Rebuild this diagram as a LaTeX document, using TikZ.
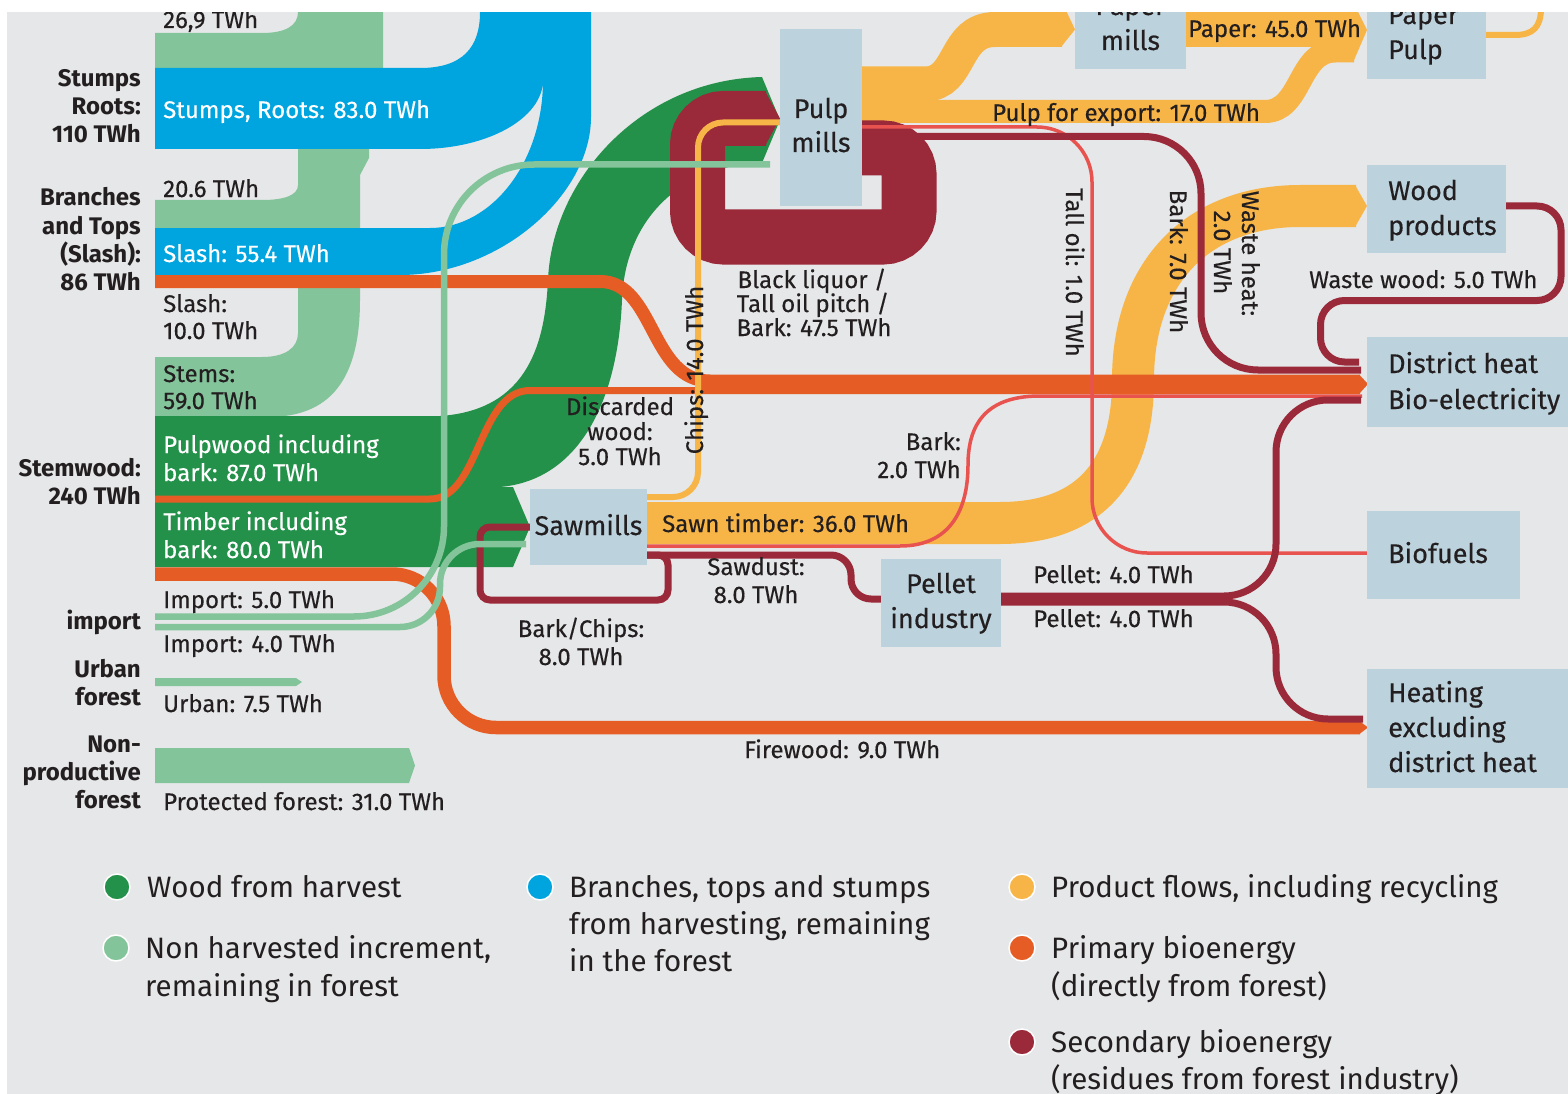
\documentclass[tikz,border=0pt]{standalone}
\usepackage{fontspec}
\setmainfont{Fira Sans}[UprightFeatures={FakeBold=0.35}]
\newfontfamily\legfont{Fira Sans}
\definecolor{bgc}{HTML}{E6E7E8}
\definecolor{dgreen}{HTML}{24914A}
\definecolor{lgreen}{HTML}{84C49B}
\definecolor{skyb}{HTML}{00A5E0}
\definecolor{ylw}{HTML}{F7B548}
\definecolor{org}{HTML}{E55D25}
\definecolor{dred}{HTML}{9A2939}
\definecolor{lred}{HTML}{E8534F}
\definecolor{boxc}{HTML}{BCD2DD}
\definecolor{txt}{HTML}{231F20}
\begin{document}
\begin{tikzpicture}[x=1pt,y=-1pt,
  lbl/.style={font=\fontsize{24}{28}\selectfont, text=txt, inner sep=0pt},
  wl/.style={lbl, text=white, anchor=base west},
  dl/.style={lbl, anchor=base west},
  cl/.style={lbl, anchor=base},
  bl/.style={font=\fontsize{24}{28}\selectfont\bfseries, text=txt, inner sep=0pt, anchor=base east},
  bxl/.style={font=\fontsize{27}{32}\selectfont, text=txt, inner sep=0pt, anchor=base west},
  bxc/.style={bxl, anchor=base},
  leg/.style={font=\legfont\fontsize{29.5}{35}\selectfont, text=txt, inner sep=0pt, anchor=base west},
  procbox/.style={fill=boxc, draw=none, inner sep=0pt, anchor=north west},
  legdot/.style={circle, draw=white, line width=1.5pt, minimum size=26pt, inner sep=0pt},
]
\useasboundingbox (0,0) rectangle (1568,1094);
\fill[bgc] (0,0) rectangle (1568,1094);

% ---------- light green (non harvested) ----------
\fill[lgreen] (155,33) -- (262,33) .. controls (285,33) and (298,26) .. (298,12) -- (298,0) -- (383,0)
  -- (383,149) -- (369,149) -- (369,158) -- (360,175) -- (360,300)
  .. controls (360,380) and (330,417) .. (268,417) -- (155,417) -- (155,357) -- (262,357)
  .. controls (285,357) and (298,348) .. (298,333) -- (298,228) -- (155,228) -- (155,200) -- (262,200)
  .. controls (285,200) and (298,195) .. (298,185) -- (298,68) -- (155,68) -- cycle;
\fill[lgreen] (155,678) -- (296,678) -- (302,682) -- (296,686) -- (155,686) -- cycle;
\fill[lgreen] (155,748) -- (409,748) -- (415,765.5) -- (409,783) -- (155,783) -- cycle;

% ---------- blue ----------
\fill[skyb] (155,68) -- (420,68) .. controls (462,68) and (480,48) .. (480,12) -- (480,0) -- (591,0)
  -- (591,117) .. controls (591,195) and (500,275) .. (400,275) -- (155,275) -- (155,228) -- (430,228)
  .. controls (492,228) and (543,162) .. (543,80) .. controls (543,118) and (488,149) .. (420,149)
  -- (155,149) -- cycle;

% ---------- dark green ----------
\fill[dgreen] (155,416) -- (440,416) .. controls (530,410) and (545,340) .. (548,280)
  .. controls (552,180) and (640,80) .. (762,77) -- (780,120) -- (762,163)
  .. controls (680,165) and (625,220) .. (622,300) .. controls (618,400) and (580,480) .. (500,487)
  -- (513,487) -- (530,527) -- (513,567) -- (155,567) -- cycle;

% ---------- yellow product flows ----------
\draw[ylw, line width=35pt] (862,84) -- (925,84) .. controls (962,84) and (953,29.5) .. (995,29.5) -- (1062,29.5);
\fill[ylw] (1061,0) -- (1075,29.5) -- (1061,47) -- cycle;
\draw[ylw, line width=23pt] (862,111.5) -- (1265,111.5) .. controls (1302,111.5) and (1298,51) .. (1335,51) -- (1354,51);
\fill[ylw] (1186,0) rectangle (1354,47);
\fill[ylw] (1353,0) -- (1358,12) -- (1367,30) -- (1353,62.5) -- cycle;
\draw[ylw, line width=6pt] (1486,35) -- (1515,35) .. controls (1533,35) and (1541,27) .. (1541,8) -- (1541,0);
\draw[ylw, line width=42pt] (647,523) -- (1000,523) .. controls (1100,523) and (1133,460) .. (1133,380)
  .. controls (1133,270) and (1200,206) .. (1300,206) -- (1356,206);
\fill[ylw] (1355,185) -- (1367,206) -- (1355,227) -- cycle;

% ---------- dark red loop at pulp mills ----------
\draw[dred, line width=55pt, rounded corners=26pt] (862,148) -- (909,148) -- (909,237) -- (697.5,237) -- (697.5,118.5) -- (766,118.5);
\fill[dred] (765,91) -- (780,118.5) -- (765,146) -- cycle;

% ---------- orange primary bioenergy ----------
\draw[org, line width=13pt] (155,281.5) -- (600,281.5) .. controls (655,281.5) and (650,381) .. (710,381) -- (1360,381);
\draw[org, line width=7pt] (155,499) -- (430,499) .. controls (480,499) and (478,390.5) .. (530,390.5) -- (1360,390.5);
\fill[org] (1359,374.5) -- (1368,384) -- (1359,394) -- cycle;
\draw[org, line width=13.5pt, rounded corners=52pt] (155,574) -- (444,574) -- (444,727.5) -- (1360,727.5);
\fill[org] (1359,720.75) -- (1368,727.5) -- (1359,734.25) -- cycle;

% ---------- chips ----------
\draw[ylw, line width=6pt, rounded corners=25pt] (647,497) -- (698,497) -- (698,122.5) -- (780,122.5);

% ---------- light red ----------
\draw[lred, line width=3.5pt, rounded corners=55pt] (862,127) -- (1092,127) -- (1092,553) -- (1367,553);
\draw[lred, line width=3.5pt] (647,546) -- (900,546) .. controls (950,546) and (968,510) .. (968,465)
  .. controls (968,420) and (990,396) .. (1040,396) -- (1362,396);

% ---------- dark red lines ----------
\draw[dred, line width=7pt, rounded corners=57pt] (862,136.5) -- (1201,136.5) -- (1201,370) -- (1361,370);
\draw[dred, line width=7pt, rounded corners=24pt] (1506,206) -- (1561,206) -- (1561,300.5) -- (1320.5,300.5) -- (1320.5,362) -- (1359,362);
\draw[dred, line width=7pt, rounded corners=52pt] (1001,596) -- (1276,596) -- (1276,400) -- (1361,400);
\draw[dred, line width=7pt, rounded corners=52pt] (1001,602) -- (1276,602) -- (1276,719) -- (1363,719);
\draw[dred, line width=7pt, rounded corners=20pt] (647,555) -- (851,555) -- (851,599) -- (882,599);
\draw[dred, line width=7pt, rounded corners=10pt] (647,555) -- (668,555) -- (668,600) -- (480,600) -- (480,527) -- (531,527);

% ---------- light green imports ----------
\draw[lgreen, line width=6.5pt, rounded corners=90pt] (155,616.5) -- (444,616.5) -- (444,164.5) -- (770,164.5);
\draw[lgreen, line width=6.5pt, rounded corners=40pt] (155,627) -- (440,627) -- (440,544) -- (526,544);

% ---------- boxes ----------
\node[procbox, minimum width=82pt, minimum height=177pt] (pulp) at (780,29) {};
\node[procbox, minimum width=111pt, minimum height=69pt] (papermill) at (1075,0) {};
\node[procbox, minimum width=119pt, minimum height=79pt] (paperpulp) at (1367,0) {};
\node[procbox, minimum width=139pt, minimum height=88pt] (woodprod) at (1367,165) {};
\node[procbox, minimum width=201pt, minimum height=90pt] (district) at (1367,337) {};
\node[procbox, minimum width=153pt, minimum height=88pt] (biofuels) at (1367,511) {};
\node[procbox, minimum width=201pt, minimum height=119pt] (heating) at (1367,669) {};
\node[procbox, minimum width=117pt, minimum height=76pt] (sawmills) at (530,489) {};
\node[procbox, minimum width=120pt, minimum height=88pt] (pellet) at (881,559) {};

% ---------- box texts ----------
\node[bxc] (tpulpa) at (821,118) {Pulp};
\node[bxc] (tpulpb) at (821,152) {mills};
\node[bxc] (tpma) at (1130.5,15) {Paper};
\node[bxc] (tpmb) at (1130.5,50) {mills};
\node[bxl] (tppa) at (1388,24) {Paper};
\node[bxl] (tppb) at (1388,59) {Pulp};
\node[bxl] (twpa) at (1388,200) {Wood};
\node[bxl] (twpb) at (1388,235) {products};
\node[bxl] (tdha) at (1388,373) {District heat};
\node[bxl] (tdhb) at (1388,409) {Bio-electricity};
\node[bxl] (tbio) at (1388,563) {Biofuels};
\node[bxl] (theata) at (1388,702) {Heating};
\node[bxl] (theatb) at (1388,737) {excluding};
\node[bxl] (theatc) at (1388,772) {district heat};
\node[bxc] (tsaw) at (588.5,535) {Sawmills};
\node[bxc] (tpela) at (941,593) {Pellet};
\node[bxc] (tpelb) at (941,628) {industry};

% ---------- left source labels ----------
\node[bl] (s1a) at (141,87) {Stumps};
\node[bl] (s1b) at (141,115) {Roots:};
\node[bl] (s1c) at (141,143) {110 TWh};
\node[bl] (s2a) at (141,206) {Branches};
\node[bl] (s2b) at (141,234) {and Tops};
\node[bl] (s2c) at (141,262) {(Slash):};
\node[bl] (s2d) at (141,290) {86 TWh};
\node[bl] (s3a) at (141,476) {Stemwood:};
\node[bl] (s3b) at (141,504) {240 TWh};
\node[bl] (s4) at (141,629) {import};
\node[bl] (s5a) at (141,677) {Urban};
\node[bl] (s5b) at (141,705) {forest};
\node[bl] (s6a) at (141,752) {Non-};
\node[bl] (s6b) at (141,780) {productive};
\node[bl] (s6c) at (141,808) {forest};

% ---------- flow labels ----------
\node[dl] (f1) at (163,28) {26,9 TWh};
\node[wl] (f2) at (163,118) {Stumps, Roots: 83.0 TWh};
\node[dl] (f3) at (163,197) {20.6 TWh};
\node[wl] (f4) at (163,262) {Slash: 55.4 TWh};
\node[dl] (f5a) at (163,312) {Slash:};
\node[dl] (f5b) at (163,339) {10.0 TWh};
\node[dl] (f6a) at (163,382) {Stems:};
\node[dl] (f6b) at (163,409) {59.0 TWh};
\node[wl] (f7a) at (163,453) {Pulpwood including};
\node[wl] (f7b) at (163,481) {bark: 87.0 TWh};
\node[wl] (f8a) at (163,530) {Timber including};
\node[wl] (f8b) at (163,558) {bark: 80.0 TWh};
\node[dl] (f9) at (163,608) {Import: 5.0 TWh};
\node[dl] (f10) at (163,652) {Import: 4.0 TWh};
\node[dl] (f11) at (163,712) {Urban: 7.5 TWh};
\node[dl] (f12) at (163,810) {Protected forest: 31.0 TWh};
\node[cl] (f13a) at (620,415) {Discarded};
\node[cl] (f13b) at (620,440) {wood:};
\node[cl] (f13c) at (620,465) {5.0 TWh};
\node[lbl, rotate=90, anchor=base] (f14) at (703,370) {Chips: 14.0 TWh};
\node[cl] (f15a) at (812,288) {Black liquor /};
\node[cl] (f15b) at (813,312) {Tall oil pitch /};
\node[cl] (f15c) at (814,336) {Bark: 47.5 TWh};
\node[dl] (f16) at (1188,37) {Paper: 45.0 TWh};
\node[dl] (f17) at (992,121) {Pulp for export: 17.0 TWh};
\node[lbl, rotate=-90, anchor=base] (f18) at (1066,272.5) {Tall oil: 1.0 TWh};
\node[lbl, rotate=-90, anchor=base] (f19) at (1170,261.5) {Bark: 7.0 TWh};
\node[lbl, rotate=-90, anchor=base] (f20a) at (1242,253.5) {Waste heat:};
\node[lbl, rotate=-90, anchor=base] (f20b) at (1214,252.5) {2.0 TWh};
\node[dl] (f21) at (1309,288) {Waste wood: 5.0 TWh};
\node[lbl, anchor=base east] (f22a) at (961,450) {Bark:};
\node[lbl, anchor=base east] (f22b) at (961,478) {2.0 TWh};
\node[dl] (f23) at (662,532) {Sawn timber: 36.0 TWh};
\node[cl] (f24a) at (756,575) {Sawdust:};
\node[cl] (f24b) at (756,603) {8.0 TWh};
\node[cl] (f25a) at (581,637) {Bark/Chips:};
\node[cl] (f25b) at (581,665) {8.0 TWh};
\node[dl] (f26) at (1033,583) {Pellet: 4.0 TWh};
\node[dl] (f27) at (1033,627) {Pellet: 4.0 TWh};
\node[dl] (f28) at (744,758) {Firewood: 9.0 TWh};

% ---------- legend ----------
\node[legdot, fill=dgreen] (d1) at (117,887) {};
\node[leg] (g1) at (147,897) {Wood from harvest};
\node[legdot, fill=lgreen] (d2) at (116,948) {};
\node[leg] (g2a) at (145,958) {Non harvested increment,};
\node[leg] (g2b) at (145,996) {remaining in forest};
\node[legdot, fill=skyb] (d3) at (540,887) {};
\node[leg] (g3a) at (569,897) {Branches, tops and stumps};
\node[leg] (g3b) at (569,934) {from harvesting, remaining};
\node[leg] (g3c) at (569,971) {in the forest};
\node[legdot, fill=ylw] (d4) at (1022,887) {};
\node[leg] (g4) at (1051,897) {Product flows, including recycling};
\node[legdot, fill=org] (d5) at (1022,948) {};
\node[leg] (g5a) at (1051,958) {Primary bioenergy};
\node[leg] (g5b) at (1051,996) {(directly from forest)};
\node[legdot, fill=dred] (d6) at (1022,1042) {};
\node[leg] (g6a) at (1051,1052) {Secondary bioenergy};
\node[leg] (g6b) at (1051,1089) {(residues from forest industry)};

% ---------- white margins ----------
\fill[white] (0,0) rectangle (1568,12);
\fill[white] (0,0) rectangle (7,1094);
\end{tikzpicture}
\end{document}
